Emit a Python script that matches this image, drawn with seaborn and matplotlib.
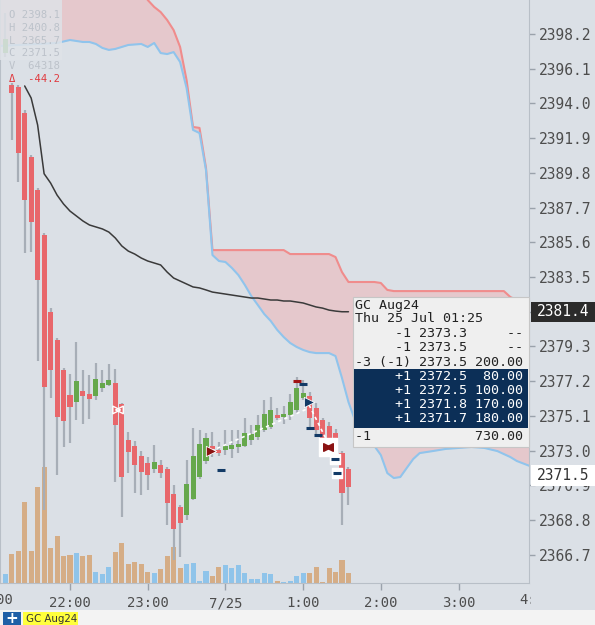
import matplotlib
matplotlib.use("Agg")
import matplotlib.pyplot as plt
import matplotlib.transforms as mtransforms
from matplotlib.patches import Rectangle
import pandas as pd
import seaborn as sns

# ---- data (5 minute bars, minutes after 21:00 on 24 Jul) ----
bar_min = list(range(10, 280, 5))
opens = [2397.05, 2395.12, 2394.99, 2393.42, 2390.76, 2388.77, 2386.04, 2381.38, 2379.69, 2377.88,
         2376.36, 2375.94, 2376.61, 2376.42, 2376.30, 2376.79, 2376.97, 2377.09, 2375.82, 2373.64,
         2373.28, 2372.67, 2372.25, 2371.89, 2372.13, 2371.89, 2370.37, 2369.59, 2369.10, 2370.07,
         2371.40, 2372.37, 2373.20, 2373.04, 2373.04, 2373.10, 2373.22, 2373.28, 2373.64, 2373.82,
         2374.25, 2374.43, 2375.09, 2375.03, 2375.15, 2375.46, 2376.18, 2376.30, 2375.58, 2374.85,
         2374.49, 2374.06, 2372.85, 2371.89]
highs = [2399.50, 2395.25, 2395.10, 2393.60, 2390.90, 2388.90, 2386.16, 2381.60, 2379.80, 2378.00,
         2377.63, 2379.57, 2377.88, 2377.57, 2378.30, 2377.88, 2378.24, 2377.94, 2375.90, 2374.13,
         2373.60, 2373.00, 2372.61, 2373.34, 2372.43, 2372.00, 2370.92, 2369.70, 2372.43, 2374.37,
         2374.25, 2374.07, 2374.10, 2373.50, 2374.25, 2374.25, 2374.25, 2374.97, 2374.55, 2375.15,
         2376.06, 2376.24, 2375.60, 2375.70, 2376.40, 2377.45, 2377.25, 2376.55, 2375.90, 2375.00,
         2374.70, 2374.30, 2373.00, 2372.00]
lows = [2396.80, 2391.79, 2389.25, 2384.95, 2385.00, 2378.42, 2369.41, 2376.18, 2371.52, 2373.22,
        2373.46, 2374.85, 2374.61, 2374.91, 2376.06, 2376.55, 2376.90, 2371.10, 2368.98, 2371.65,
        2370.44, 2370.31, 2370.62, 2371.65, 2371.34, 2368.50, 2366.38, 2366.56, 2368.80, 2370.00,
        2371.30, 2372.20, 2372.60, 2372.70, 2372.73, 2372.55, 2372.85, 2373.20, 2373.34, 2373.64,
        2374.13, 2374.30, 2374.85, 2374.60, 2374.85, 2375.30, 2376.06, 2374.37, 2373.94, 2373.22,
        2372.73, 2372.13, 2368.50, 2369.71]
closes = [2397.90, 2394.63, 2391.00, 2388.16, 2386.83, 2383.32, 2376.85, 2377.88, 2375.03, 2374.79,
          2375.64, 2377.21, 2376.30, 2376.12, 2377.33, 2377.09, 2377.27, 2374.55, 2371.40, 2372.92,
          2372.13, 2371.71, 2371.52, 2372.31, 2371.65, 2369.83, 2368.26, 2368.62, 2370.98, 2372.67,
          2373.40, 2373.76, 2373.10, 2372.85, 2373.28, 2373.34, 2373.40, 2374.06, 2374.00, 2374.55,
          2375.21, 2375.46, 2374.97, 2375.15, 2375.94, 2376.79, 2376.48, 2374.97, 2374.25, 2373.52,
          2373.04, 2372.43, 2370.44, 2370.80]
volumes = [500, 1600, 1750, 4450, 1750, 5300, 6400, 1900, 2600, 1500,
           1550, 1650, 1500, 1550, 600, 500, 900, 1700, 2200, 1050,
           1150, 1050, 600, 550, 750, 1500, 2000, 800, 1050, 1100,
           100, 650, 400, 900, 1000, 800, 1000, 550, 200, 200,
           550, 500, 100, 50, 100, 400, 550, 550, 900, 50,
           800, 600, 1250, 550]

vwap_min = list(range(25, 280, 5))
vwap = [2395.06, 2394.33, 2392.70, 2389.75, 2389.19, 2388.46, 2387.92, 2387.49, 2387.19, 2386.89,
        2386.65, 2386.53, 2386.41, 2386.22, 2385.86, 2385.38, 2385.07, 2384.89, 2384.65, 2384.47,
        2384.35, 2384.23, 2383.80, 2383.44, 2383.26, 2383.08, 2382.90, 2382.84, 2382.72, 2382.59,
        2382.53, 2382.47, 2382.41, 2382.35, 2382.29, 2382.23, 2382.23, 2382.17, 2382.11, 2382.11,
        2382.05, 2382.05, 2381.99, 2381.93, 2381.81, 2381.69, 2381.62, 2381.50, 2381.44, 2381.40,
        2381.40]

# cloud (shifted forward, so it runs past the last bar)
cloud_min = [5, 50, 60, 65, 70, 75, 80, 85, 90, 95,
             100, 105, 115, 120, 125, 130, 135, 140, 145, 150,
             155, 160, 165, 170, 175, 180, 185, 190, 195, 200,
             205, 210, 215, 220, 225, 230, 235, 240, 245, 250,
             255, 260, 265, 270, 275, 280, 285, 290, 295, 300,
             305, 310, 315, 320, 325, 330, 340, 350, 360, 370,
             380, 390, 395, 400, 405, 415]
cloud_upper = [2401.5] * 12 + [
    2401.2, 2400.26, 2399.84, 2399.53, 2399.05, 2398.44, 2397.42, 2395.42,
    2392.58, 2392.52, 2390.10] + [2385.13] * 12 + [2384.89] * 7 + [
    2384.71, 2383.80] + [2383.20] * 5 + [2383.14, 2382.72] + [2382.65] * 12 + [
    2382.29, 2382.11, 2381.99]
cloud_lower = [2397.48, 2397.66, 2397.84, 2397.78, 2397.72, 2397.72, 2397.60, 2397.36, 2397.24, 2397.30,
               2397.42, 2397.54, 2397.60, 2397.42, 2397.66, 2397.05, 2396.99, 2397.11, 2396.51, 2394.94,
               2392.40, 2392.21, 2389.97, 2384.83, 2384.47, 2384.41, 2384.05, 2383.62, 2383.02, 2382.35,
               2381.81, 2381.26, 2380.84, 2380.30, 2379.87, 2379.51, 2379.27, 2379.09, 2378.96, 2378.90,
               2378.90, 2378.90, 2378.72, 2377.39, 2375.94, 2374.85, 2374.12, 2373.64, 2373.28, 2372.73,
               2371.64, 2371.34, 2371.40, 2371.95, 2372.49, 2372.85, 2372.97, 2373.10, 2373.16, 2373.22,
               2373.16, 2372.97, 2372.79, 2372.61, 2372.37, 2372.07]

# executions and working orders
link_t = [[168.9, 243.0], [244.6, 260.8]]
link_p = [[2372.97, 2375.52], [2375.76, 2373.22]]
sell_t, sell_p = [168.9], [2372.97]
buy_t, buy_p = [244.6], [2375.95]
pair_t, pair_p = [259.2], [2373.22]
ghost_t, ghost_p = [97.1], [2375.46]
order_t = [176.6, 239.9, 245.3, 251.5, 264.6, 266.2]
order_p = [2371.83, 2377.03, 2374.37, 2373.94, 2372.49, 2371.64]
order_boxed = [False, False, False, False, True, True]
stop_t, stop_p = [235.3], [2377.21]

price_ticks = [2398.2, 2396.1, 2394.0, 2391.9, 2389.8, 2387.7, 2385.6, 2383.5,
               2381.4, 2379.3, 2377.2, 2375.1, 2373.0, 2370.9, 2368.8, 2366.7]
time_ticks = [60, 120, 180, 240, 300, 360]
time_labels = ["22:00", "23:00", "7/25", "1:00", "2:00", "3:00"]
last_vwap = 2381.4
last_price = 2371.5

info_rows = ["O 2398.1", "H 2400.8", "L 2365.7", "C 2371.5", "V  64318"]
info_delta = "\u0394  -44.2"
tip_head = ["GC Aug24", "Thu 25 Jul 01:25"]
tip_rows = ["     -1 2373.3     --",
            "     -1 2373.5     --",
            "-3 (-1) 2373.5 200.00"]
tip_fills = ["     +1 2372.5  80.00",
             "     +1 2372.5 100.00",
             "     +1 2371.8 170.00",
             "     +1 2371.7 180.00"]
tip_total = "-1             730.00"

# ---- style ----
BG = "#dbe0e6"
UP, DOWN = "#66a84c", "#e8676b"
VUP, VDOWN = "#8fc4ea", "#d5ad86"
W, H = 595, 625


def fx(x):
    return x / W


def fy(y):
    return 1 - y / H


sns.set_style("ticks", {"axes.facecolor": BG, "figure.facecolor": BG})
plt.rcParams["font.family"] = ["DejaVu Sans Mono", "DejaVu Sans"]

fig = plt.figure(figsize=(W / 100, H / 100), dpi=100)
fig.patch.set_facecolor(BG)
rect = [0, 42 / H, 529 / W, 583 / H]
ax2 = fig.add_axes(rect)
ax = fig.add_axes(rect, sharex=ax2)
ax.patch.set_visible(False)

df = pd.DataFrame({"t": bar_min, "o": opens, "h": highs, "l": lows, "c": closes, "v": volumes})
df["dir"] = ["up" if c >= o else "down" for o, c in zip(df.o, df.c)]

# volume
sns.barplot(data=df, x="t", y="v", hue="dir", palette={"up": VUP, "down": VDOWN},
            native_scale=True, dodge=False, width=0.78, saturation=1, errorbar=None,
            legend=False, linewidth=0, ax=ax2)
ax2.set_ylim(0, 32065)
ax2.set_axis_off()

# cloud
ax.fill_between(cloud_min, cloud_lower, cloud_upper, color="#f5a4a6", alpha=0.4, lw=0, zorder=1)
sns.lineplot(x=cloud_min, y=cloud_upper, color="#f08c8c", linewidth=1.5, ax=ax, zorder=1.5)
sns.lineplot(x=cloud_min, y=cloud_lower, color="#90c4ec", linewidth=1.5, ax=ax, zorder=1.5)

# vwap
sns.lineplot(x=vwap_min, y=vwap, color="#3a3a3a", linewidth=1.1, ax=ax, zorder=2)

# candles
ax.vlines(df.t, df.l, df.h, color="#a7aeb7", linewidth=1.6, zorder=3)
body_lo = df[["o", "c"]].min(axis=1)
body_h = (df.c - df.o).abs().clip(lower=0.2)
ax.bar(df.t, body_h, bottom=body_lo, width=3.9,
       color=[UP if d == "up" else DOWN for d in df.dir], linewidth=0, zorder=4)

# trade marks
for tt, pp in zip(link_t, link_p):
    ax.plot(tt, pp, color="white", linewidth=1.2, linestyle=(0, (2, 2)), zorder=5)
ax.scatter(sell_t, sell_p, marker=">", s=55, color="#8a1212", edgecolor="white", linewidth=0.6, zorder=6)
ax.scatter(buy_t, buy_p, marker=">", s=55, color="#123a66", edgecolor="white", linewidth=0.6, zorder=6)
ax.scatter(pair_t, pair_p, marker="s", s=150, color="white", zorder=6)
ax.scatter([t - 1.1 for t in pair_t], pair_p, marker=">", s=30, color="#8a1212", zorder=7)
ax.scatter([t + 1.1 for t in pair_t], pair_p, marker="<", s=30, color="#8a1212", zorder=7)
ax.scatter([t - 1.1 for t in ghost_t], ghost_p, marker=">", s=30, facecolor="none", edgecolor="white", linewidth=1, zorder=6)
ax.scatter([t + 1.1 for t in ghost_t], ghost_p, marker="<", s=30, facecolor="none", edgecolor="white", linewidth=1, zorder=6)
for t, p, boxed in zip(order_t, order_p, order_boxed):
    if boxed:
        ax.scatter([t], [p], marker="s", s=60, color="white", zorder=6)
    ax.plot([t], [p], marker="_", markersize=6, mew=2.2, color="#123a66", zorder=7)
ax.plot(stop_t, stop_p, marker="_", markersize=6, mew=2.2, linestyle="none", color="#a01515", zorder=7)

# axes
ax.set_xlim(5.95, 414.4)
ax.set_ylim(2364.99, 2400.26)
ax.yaxis.tick_right()
ax.set_yticks(price_ticks)
# the last vwap value box stands in for its own tick label
ax.set_yticklabels(["" if p == last_vwap else f"{p:.1f}" for p in price_ticks])
ax.set_xticks(time_ticks)
ax.set_xticklabels(time_labels)
ax.set_xlabel("")
ax.set_ylabel("")
ax.tick_params(axis="y", length=4, width=1, color="#9aa2ab", labelsize=10.5, labelcolor="#4d4d4d", pad=3)
ax.tick_params(axis="x", length=5, width=1, color="#9aa2ab", labelsize=10, labelcolor="#4d4d4d", pad=4.5)
for side in ["left", "right", "bottom"]:
    ax.spines[side].set_color("#b8bfc7")
    ax.spines[side].set_visible(True)
ax.spines["top"].set_visible(False)

# clipped edge labels of the time axis
xfig = mtransforms.blended_transform_factory(ax.transData, fig.transFigure)
ax.text(0, fy(600), "21:00", transform=xfig, ha="center", va="center", fontsize=10,
        color="#4d4d4d", clip_on=False)
t4 = ax.text(420, fy(600), "4:00", transform=xfig, ha="center", va="center", fontsize=10,
             color="#4d4d4d")
t4.set_clip_box(mtransforms.TransformedBbox(mtransforms.Bbox.from_extents(0, 0, fx(531), 1),
                                            fig.transFigure))
t4.set_clip_on(True)

# last value boxes on the price scale
yfig = mtransforms.blended_transform_factory(fig.transFigure, ax.transData)
dpp = (2400.26 - 2364.99) / 583
for val, fc, tc, hpx in [(last_vwap, "#2b2b2b", "white", 20), (last_price, "white", "#333333", 21)]:
    ax.add_patch(Rectangle((fx(531), val - dpp * hpx / 2), fx(64), dpp * hpx, transform=yfig,
                           facecolor=fc, edgecolor="none", clip_on=False, zorder=20))
    ax.text(fx(537), val, f"{val:.1f}", transform=yfig, ha="left", va="center", fontsize=10.5,
            color=tc, clip_on=False, zorder=21)

# OHLC info panel
fig.add_artist(Rectangle((0, fy(60)), fx(62), 60 / H, transform=fig.transFigure,
                         facecolor="#dfe3e8", alpha=0.85, edgecolor="none", zorder=8))
for i, row in enumerate(info_rows):
    fig.text(fx(9), fy(15 + 12.8 * i), row, fontsize=7.6, color="#bcc2ca", va="center", zorder=9)
fig.text(fx(9), fy(79), info_delta, fontsize=7.6, color="#e0393e", va="center", zorder=9)

# order tooltip
fig.add_artist(Rectangle((fx(353), fy(447)), fx(176), 150 / H, transform=fig.transFigure,
                         facecolor="#efefef", edgecolor="#c6c6c6", linewidth=0.8, zorder=10))
fig.add_artist(Rectangle((fx(354), fy(428)), fx(174), 59 / H, transform=fig.transFigure,
                         facecolor="#0c2f57", edgecolor="none", zorder=11))
for i, row in enumerate(tip_head):
    fig.text(fx(355), fy(305 + 13.5 * i), row, fontsize=9.6, color="#222222", va="center", zorder=12)
for i, row in enumerate(tip_rows):
    fig.text(fx(355), fy(333 + 14.5 * i), row, fontsize=9.6, color="#222222", va="center", zorder=12)
for i, row in enumerate(tip_fills):
    fig.text(fx(355), fy(377 + 14 * i), row, fontsize=9.6, color="white", va="center", zorder=12)
fig.text(fx(355), fy(437), tip_total, fontsize=9.6, color="#222222", va="center", zorder=12)

# bottom tab strip
fig.add_artist(Rectangle((0, 0), 1, 15 / H, transform=fig.transFigure,
                         facecolor="#f3f3f3", edgecolor="none", zorder=10))
fig.add_artist(Rectangle((fx(3), 0), fx(18), 13 / H, transform=fig.transFigure,
                         facecolor="#1f5fa6", edgecolor="none", zorder=11))
fig.text(fx(12), fy(618.5), "+", fontsize=11, fontweight="bold", color="white",
         ha="center", va="center", family="DejaVu Sans", zorder=12)
fig.add_artist(Rectangle((fx(23), 0), fx(55), 13 / H, transform=fig.transFigure,
                         facecolor="#ffff3c", edgecolor="none", zorder=11))
fig.text(fx(26), fy(619), "GC Aug24", fontsize=7.4, color="#333333", va="center",
         family="DejaVu Sans", zorder=12)

fig.savefig("out.png", dpi=100, facecolor=BG)
